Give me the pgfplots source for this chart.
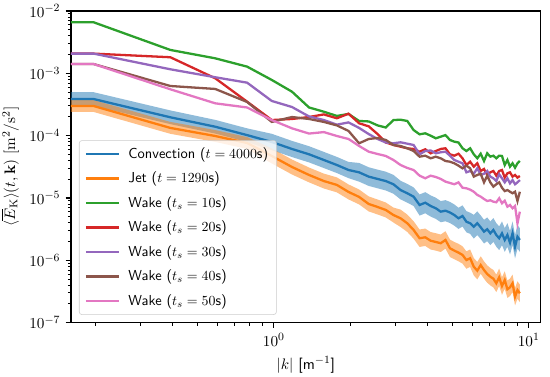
\documentclass[border=0pt,11pt]{standalone}
\usepackage{pgfplots}
\usepackage{pgfplotstable}
\usepgfplotslibrary{fillbetween}
\pgfplotsset{compat=1.18}
\definecolor{c0}{HTML}{1F77B4}
\definecolor{c1}{HTML}{FF7F0E}
\definecolor{c2}{HTML}{2CA02C}
\definecolor{c3}{HTML}{D62728}
\definecolor{c4}{HTML}{9467BD}
\definecolor{c5}{HTML}{8C564B}
\definecolor{c6}{HTML}{E377C2}
\pgfplotstableread{
k c clo chi j jlo jhi wa wb wc wd we
0.16 3.87e-4 3.00e-4 4.98e-4 2.99e-4 2.40e-4 3.72e-4 6.59e-3 2.07e-3 2.07e-3 1.41e-3 1.41e-3
0.1963 3.87e-4 3.00e-4 4.98e-4 2.99e-4 2.40e-4 3.72e-4 6.59e-3 2.07e-3 2.07e-3 1.41e-3 1.41e-3
0.3927 1.97e-4 1.53e-4 2.54e-4 1.33e-4 1.07e-4 1.66e-4 2.37e-3 1.81e-3 1.16e-3 6.26e-4 5.54e-4
0.5890 1.39e-4 1.08e-4 1.79e-4 9.87e-5 7.93e-5 1.23e-4 1.74e-3 8.32e-4 8.64e-4 5.61e-4 3.30e-4
0.7854 1.02e-4 7.92e-5 1.31e-4 7.62e-5 6.12e-5 9.49e-5 1.28e-3 3.51e-4 7.08e-4 3.47e-4 2.83e-4
0.9817 7.91e-5 5.86e-5 1.07e-4 4.72e-5 3.58e-5 6.22e-5 7.82e-4 1.78e-4 3.60e-4 1.66e-4 1.78e-4
1.1781 6.11e-5 4.53e-5 8.24e-5 3.14e-5 2.38e-5 4.14e-5 5.07e-4 1.85e-4 2.88e-4 1.99e-4 1.31e-4
1.3744 5.02e-5 3.72e-5 6.77e-5 2.34e-5 1.78e-5 3.08e-5 2.83e-4 1.99e-4 2.03e-4 1.85e-4 1.08e-4
1.5708 4.07e-5 3.02e-5 5.49e-5 1.87e-5 1.42e-5 2.46e-5 2.42e-4 2.19e-4 1.78e-4 1.66e-4 1.14e-4
1.7671 3.38e-5 2.51e-5 4.56e-5 1.62e-5 1.23e-5 2.14e-5 2.07e-4 1.90e-4 1.50e-4 1.46e-4 9.87e-5
1.9635 2.81e-5 2.08e-5 3.79e-5 1.25e-5 9.48e-6 1.65e-5 2.23e-4 2.25e-4 1.63e-4 1.19e-4 8.84e-5
2.1598 2.58e-5 1.83e-5 3.65e-5 1.04e-5 7.89e-6 1.37e-5 1.72e-4 1.58e-4 1.33e-4 7.54e-5 6.83e-5
2.3562 2.20e-5 1.56e-5 3.11e-5 8.01e-6 6.08e-6 1.06e-5 1.69e-4 1.41e-4 1.06e-4 8.84e-5 5.53e-5
2.5525 2.02e-5 1.43e-5 2.85e-5 7.17e-6 5.44e-6 9.45e-6 1.46e-4 1.06e-4 8.84e-5 9.17e-5 5.08e-5
2.7489 1.87e-5 1.32e-5 2.64e-5 6.42e-6 4.87e-6 8.46e-6 1.35e-4 7.77e-5 7.77e-5 8.52e-5 4.72e-5
2.9452 1.66e-5 1.17e-5 2.35e-5 5.33e-6 4.04e-6 7.02e-6 1.78e-4 7.08e-5 7.54e-5 7.08e-5 4.07e-5
3.1416 1.34e-5 9.48e-6 1.89e-5 4.72e-6 3.42e-6 6.51e-6 1.80e-4 6.65e-5 7.82e-5 6.83e-5 3.38e-5
3.3379 1.19e-5 8.42e-6 1.68e-5 3.93e-6 2.85e-6 5.42e-6 1.72e-4 6.27e-5 7.43e-5 6.27e-5 3.03e-5
3.5343 1.05e-5 7.43e-6 1.48e-5 3.07e-6 2.22e-6 4.24e-6 1.23e-4 6.11e-5 7.08e-5 5.67e-5 2.81e-5
3.7306 7.72e-6 5.22e-6 1.14e-5 2.26e-6 1.64e-6 3.12e-6 1.05e-4 5.53e-5 5.02e-5 4.60e-5 2.28e-5
3.9270 8.40e-6 5.68e-6 1.24e-5 2.34e-6 1.70e-6 3.23e-6 1.09e-4 6.04e-5 5.67e-5 4.77e-5 2.07e-5
4.1233 7.44e-6 5.03e-6 1.10e-5 2.06e-6 1.49e-6 2.84e-6 9.98e-5 5.21e-5 5.78e-5 4.33e-5 2.28e-5
4.3197 6.83e-6 4.62e-6 1.01e-5 1.97e-6 1.43e-6 2.72e-6 9.07e-5 5.67e-5 5.21e-5 4.60e-5 2.17e-5
4.5160 6.03e-6 4.08e-6 8.92e-6 1.88e-6 1.36e-6 2.59e-6 9.62e-5 6.11e-5 5.41e-5 4.33e-5 2.02e-5
4.7124 6.25e-6 4.23e-6 9.24e-6 2.12e-6 1.54e-6 2.93e-6 1.02e-4 6.27e-5 5.53e-5 3.92e-5 1.83e-5
4.9087 5.85e-6 3.96e-6 8.65e-6 1.56e-6 1.13e-6 2.15e-6 8.52e-5 5.02e-5 4.77e-5 3.82e-5 1.74e-5
5.1051 5.33e-6 3.60e-6 7.88e-6 1.43e-6 1.04e-6 1.97e-6 8.00e-5 4.77e-5 4.07e-5 3.60e-5 1.66e-5
5.3014 4.72e-6 3.19e-6 6.98e-6 1.33e-6 9.64e-7 1.84e-6 7.77e-5 5.13e-5 3.82e-5 3.30e-5 1.78e-5
5.4978 5.14e-6 3.48e-6 7.60e-6 1.22e-6 8.84e-7 1.68e-6 6.27e-5 4.33e-5 3.60e-5 2.99e-5 1.46e-5
5.6941 4.16e-6 2.81e-6 6.15e-6 1.01e-6 7.32e-7 1.39e-6 5.67e-5 3.38e-5 2.58e-5 3.30e-5 1.43e-5
5.8905 3.93e-6 2.66e-6 5.81e-6 1.08e-6 7.83e-7 1.49e-6 6.27e-5 3.82e-5 2.71e-5 2.99e-5 1.36e-5
6.0868 3.46e-6 2.23e-6 5.36e-6 7.90e-7 5.72e-7 1.09e-6 5.02e-5 3.18e-5 2.45e-5 2.20e-5 1.26e-5
6.2832 3.93e-6 2.54e-6 6.09e-6 6.82e-7 4.94e-7 9.41e-7 4.33e-5 3.60e-5 2.99e-5 2.34e-5 1.12e-5
6.4795 3.39e-6 2.19e-6 5.25e-6 8.41e-7 6.09e-7 1.16e-6 5.13e-5 2.71e-5 2.34e-5 2.45e-5 1.05e-5
6.6759 2.88e-6 1.86e-6 4.46e-6 6.99e-7 5.07e-7 9.65e-7 3.92e-5 2.92e-5 2.45e-5 1.78e-5 9.63e-6
6.8722 3.15e-6 2.03e-6 4.88e-6 6.03e-7 4.37e-7 8.32e-7 5.21e-5 2.34e-5 2.71e-5 2.28e-5 8.95e-6
7.0686 2.71e-6 1.75e-6 4.20e-6 5.46e-7 3.96e-7 7.53e-7 4.60e-5 2.58e-5 2.20e-5 1.78e-5 9.18e-6
7.2649 3.07e-6 1.98e-6 4.76e-6 5.07e-7 3.67e-7 7.00e-7 4.77e-5 2.71e-5 2.07e-5 1.52e-5 8.72e-6
7.4613 2.55e-6 1.65e-6 3.95e-6 4.28e-7 3.10e-7 5.91e-7 4.33e-5 2.28e-5 1.87e-5 1.66e-5 8.53e-6
7.6576 2.26e-6 1.46e-6 3.50e-6 5.34e-7 3.87e-7 7.37e-7 4.77e-5 2.71e-5 2.40e-5 1.78e-5 9.89e-6
7.8540 2.71e-6 1.75e-6 4.20e-6 3.87e-7 2.80e-7 5.34e-7 4.72e-5 2.81e-5 2.07e-5 1.46e-5 8.22e-6
8.0503 2.12e-6 1.37e-6 3.28e-6 4.83e-7 3.50e-7 6.67e-7 3.38e-5 2.12e-5 1.78e-5 1.29e-5 9.05e-6
8.2467 2.55e-6 1.65e-6 3.95e-6 3.43e-7 2.49e-7 4.73e-7 4.07e-5 2.49e-5 2.07e-5 1.34e-5 7.25e-6
8.4430 1.92e-6 1.24e-6 2.97e-6 3.69e-7 2.67e-7 5.09e-7 3.18e-5 2.58e-5 1.72e-5 1.26e-5 7.72e-6
8.6394 2.71e-6 1.75e-6 4.20e-6 4.28e-7 3.10e-7 5.91e-7 3.60e-5 2.20e-5 1.94e-5 1.19e-5 6.83e-6
8.8357 1.65e-6 1.07e-6 2.56e-6 2.61e-7 1.89e-7 3.60e-7 3.06e-5 2.34e-5 1.66e-5 1.26e-5 7.44e-6
9.0321 2.39e-6 1.54e-6 3.70e-6 3.34e-7 2.42e-7 4.61e-7 3.60e-5 2.12e-5 1.78e-5 8.95e-6 3.93e-6
9.2284 2.12e-6 1.37e-6 3.28e-6 2.96e-7 2.14e-7 4.08e-7 3.92e-5 2.25e-5 1.94e-5 1.26e-5 6.03e-6
}\data
\begin{document}
\begin{tikzpicture}
\begin{axis}[
  scale only axis, width=338.2pt, height=224.4pt,
  xmode=log, ymode=log,
  xmin=0.16, xmax=11.14, ymin=1e-7, ymax=1e-2,
  axis line style={line width=0.88pt},
  tick align=outside, tick pos=left,
  major tick length=3.85pt, minor tick length=2.2pt,
  every major tick/.style={black, line width=0.88pt},
  every minor tick/.style={black, line width=0.66pt},
  xlabel={$|k|$ \textsf{[m$^{-1}$]}},
  ylabel={$\langle \overline{E}_{\mathrm{K}}\rangle(t,\mathbf{k})$ $[\mathrm{m}^2/\mathrm{s}^2]$},
  legend cell align=left,
  legend style={at={(0.017,0.025)}, anchor=south west,
    font=\fontsize{10.4}{12.5}\selectfont\sffamily,
    fill=white, fill opacity=0.8, draw opacity=1, text opacity=1,
    draw=black!20, rounded corners=2pt, row sep=4.2pt,
    inner xsep=4pt, inner ysep=3pt,
    /tikz/every odd column/.append style={column sep=4pt}},
  legend image code/.code={\draw[#1] (0pt,0pt) -- (23.8pt,0pt);},
  every axis plot/.append style={line width=1.65pt},
]
\coordinate (sw) at (rel axis cs:0,0);
\coordinate (ne) at (rel axis cs:1,1);
\addplot[draw=none, name path=cu, forget plot] table[x=k, y=chi] {\data};
\addplot[draw=none, name path=cl, forget plot] table[x=k, y=clo] {\data};
\addplot[fill=c0, fill opacity=0.5, draw=none, forget plot] fill between[of=cu and cl];
\addplot[c0] table[x=k, y=c] {\data};
\addlegendentry{Convection ($t = 4000$s)}
\addplot[draw=none, name path=ju, forget plot] table[x=k, y=jhi] {\data};
\addplot[draw=none, name path=jl, forget plot] table[x=k, y=jlo] {\data};
\addplot[fill=c1, fill opacity=0.5, draw=none, forget plot] fill between[of=ju and jl];
\addplot[c1] table[x=k, y=j] {\data};
\addlegendentry{Jet ($t = 1290$s)}
\addplot[c2] table[x=k, y=wa] {\data};
\addlegendentry{Wake ($t_s = 10$s)}
\addplot[c3] table[x=k, y=wb] {\data};
\addlegendentry{Wake ($t_s = 20$s)}
\addplot[c4] table[x=k, y=wc] {\data};
\addlegendentry{Wake ($t_s = 30$s)}
\addplot[c5] table[x=k, y=wd] {\data};
\addlegendentry{Wake ($t_s = 40$s)}
\addplot[c6] table[x=k, y=we] {\data};
\addlegendentry{Wake ($t_s = 50$s)}
\end{axis}
\pgfresetboundingbox
\path ([shift={(-51.1pt,-39.1pt)}]sw) rectangle ([shift={(6.7pt,7.9pt)}]ne);
\end{tikzpicture}
\end{document}
